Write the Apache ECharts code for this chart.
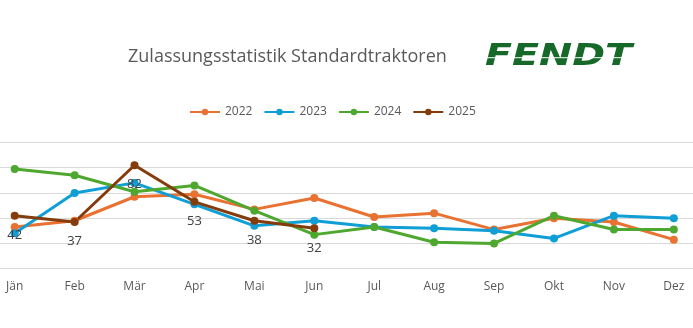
<!DOCTYPE html>
<html><head><meta charset="utf-8">
<script src="https://cdn.jsdelivr.net/npm/echarts@6/dist/echarts.min.js"></script>
<style>html,body{margin:0;padding:0;background:#fff}#c{width:693px;height:328px}</style>
</head><body><div id="c"></div>
<script>
const months = ['Jän','Feb','Mär','Apr','Mai','Jun','Jul','Aug','Sep','Okt','Nov','Dez'];
const s2022 = [33,38,57,59,47,56,41,44,31,40,37,23];
const s2023 = [28,60,68,51,34,38,33,32,30,24,42,40];
const s2024 = [79,74,61,66,46,27,33,21,20,42,31,31];
const s2025 = [42,37,82,53,38,32];
const yTicks = [0,20,40,60,80,100];

const monthIdx = months.map((m,i)=>i);
const pairs = arr => arr.map((v,i)=>[i,v]);

const chart = echarts.init(document.getElementById('c'), null, {renderer:'canvas'});
function line(name, data, color, labels){
  return {
    name, type:'line', data:pairs(data), symbol:'circle', symbolSize:8,
    lineStyle:{width:3,color}, itemStyle:{color},
    label: labels ? {show:true, position:'bottom', distance:9, color:'#404040', fontSize:13, fontFamily:'Open Sans',
      formatter:p=>p.value[1]} : {show:false},
    emphasis:{disabled:true}, animation:false
  };
}
chart.setOption({
  animation:false,
  title:{text:'Zulassungsstatistik Standardtraktoren', left:123, top:43,
    textStyle:{fontFamily:'Open Sans', fontWeight:'normal', fontSize:18, color:'#595959'}},
  graphic:[{
    type:'text', left:485, top:42, scaleX:1.32,
    style:{text:'FENDT', fontFamily:'DejaVu Sans', fontWeight:900, fontStyle:'italic', fontSize:30,
      fill:'#17692a'}
  },{
    type:'rect', left:484, top:57, z:10,
    shape:{width:152, height:1.2}, style:{fill:'rgba(255,255,255,0.8)'}
  }],
  legend:{top:101, left:184, itemWidth:30, itemHeight:8, itemGap:11,
    textStyle:{fontFamily:'Open Sans', fontSize:12, color:'#595959'},
    data:['2022','2023','2024','2025']},
  grid:{left:0, right:0, top:142.5, bottom:59.3, containLabel:false},
  xAxis:{type:'value', min:-0.245, max:11.32,
    axisLine:{show:true, lineStyle:{color:'#d9d9d9'}}, axisTick:{show:false}, splitLine:{show:false},
    axisLabel:{customValues:monthIdx, formatter:v=>months[Math.round(v)], color:'#595959', fontSize:12, fontFamily:'Open Sans', margin:12}},
  yAxis:{type:'value', min:yTicks[0], max:yTicks[yTicks.length-1], interval:20,
    axisLabel:{show:false}, axisLine:{show:false}, axisTick:{show:false},
    splitLine:{lineStyle:{color:'#d9d9d9', width:1}}},
  series:[
    line('2022', s2022, '#E97132'),
    line('2023', s2023, '#0F9ED5'),
    line('2024', s2024, '#4EA72E'),
    line('2025', s2025, '#843C0C', true)
  ]
});
</script></body></html>
